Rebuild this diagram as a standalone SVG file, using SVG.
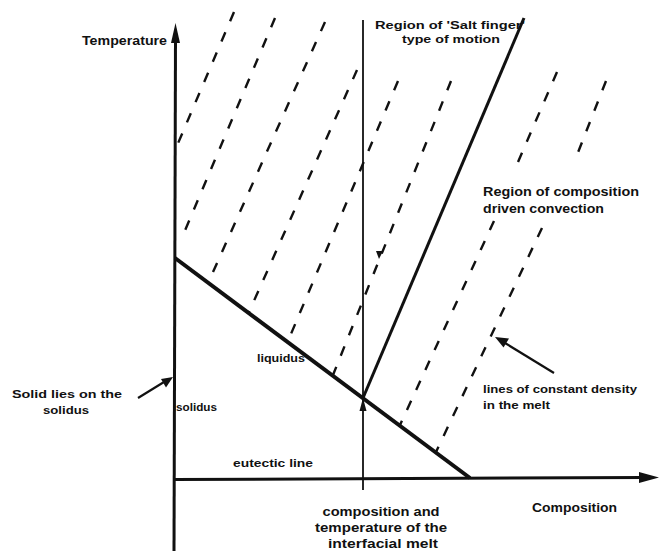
<svg xmlns="http://www.w3.org/2000/svg" width="660" height="554" viewBox="0 0 660 554">
<style>
  .lbl { font-family: "Liberation Sans", Arial, sans-serif; font-weight: bold; fill: #111; }
  .f12 { font-size: 12px; }
  .f11 { font-size: 11px; }
  .f10 { font-size: 10px; }
  .dash { stroke: #111; stroke-width: 2.4; fill: none; stroke-dasharray: 10 12; }
  .solid { stroke: #111; fill: none; }
  .head { fill: #111; }
</style>
<rect width="660" height="554" fill="#fff"/>

<g id="density-lines">
  <line class="dash" x1="234" y1="12" x2="176" y2="148"/>
  <line class="dash" x1="275" y1="18" x2="181" y2="240"/>
  <line class="dash" x1="325" y1="22" x2="209" y2="281"/>
  <line class="dash" x1="357" y1="70" x2="249" y2="312"/>
  <line class="dash" x1="398" y1="81" x2="288" y2="341"/>
  <line class="dash" x1="451" y1="81" x2="333" y2="375"/>
  <line class="dash" x1="557" y1="72" x2="518" y2="162"/>
  <line class="dash" x1="494" y1="221" x2="400" y2="425"/>
  <line class="dash" x1="606" y1="81" x2="577" y2="155"/>
  <line class="dash" x1="542" y1="228" x2="436" y2="452"/>
  <polygon class="head" points="376,251 383,251 379,259"/>
</g>

<g id="axes">
  <line class="solid" x1="174" y1="551" x2="175.5" y2="38" stroke-width="3"/>
  <polygon class="head" points="175.5,23 180,43 171,43"/>
  <line class="solid" x1="174" y1="479.5" x2="645" y2="477.5" stroke-width="3"/>
  <polygon class="head" points="659,477.5 639,472 639,483"/>
</g>

<g id="interface-line">
  <line class="solid" x1="363" y1="20" x2="363" y2="490" stroke-width="1.8"/>
  <polygon class="head" points="363,398 366.5,411 359.5,411"/>
</g>

<g id="liquidus-line">
  <line class="solid" x1="175" y1="258" x2="470" y2="478" stroke-width="4"/>
</g>

<g id="salt-finger-line">
  <line class="solid" x1="363" y1="398" x2="524" y2="18" stroke-width="3"/>
</g>

<g id="connectors">
  <line class="solid" x1="138" y1="398" x2="164" y2="382" stroke-width="2.2"/>
  <polygon class="head" points="173,377 166,387.5 161,379"/>
  <line class="solid" x1="554" y1="373" x2="505" y2="343" stroke-width="2.2"/>
  <polygon class="head" points="495,337 509,338.5 503.5,347.5"/>
</g>

<g id="label-temperature">
  <text class="lbl f12" x="167" y="45" text-anchor="end" textLength="85" lengthAdjust="spacingAndGlyphs">Temperature</text>
</g>
<g id="label-salt-finger">
  <text class="lbl f11" x="375" y="29" textLength="150" lengthAdjust="spacingAndGlyphs">Region of 'Salt  finger'</text>
  <text class="lbl f11" x="402" y="43" textLength="98" lengthAdjust="spacingAndGlyphs">type of motion</text>
</g>
<g id="label-composition-convection">
  <text class="lbl f12" x="483" y="196" textLength="156" lengthAdjust="spacingAndGlyphs">Region of  composition</text>
  <text class="lbl f12" x="483" y="213" textLength="121" lengthAdjust="spacingAndGlyphs">driven convection</text>
</g>
<g id="label-liquidus">
  <text class="lbl f10" x="257" y="362" textLength="48" lengthAdjust="spacingAndGlyphs">liquidus</text>
</g>
<g id="label-solidus">
  <text class="lbl f10" x="176" y="411" textLength="41" lengthAdjust="spacingAndGlyphs">solidus</text>
</g>
<g id="label-solid-lies">
  <text class="lbl f11" x="12" y="398" textLength="110" lengthAdjust="spacingAndGlyphs">Solid lies on the</text>
  <text class="lbl f11" x="66" y="414" text-anchor="middle" textLength="46" lengthAdjust="spacingAndGlyphs">solidus</text>
</g>
<g id="label-eutectic">
  <text class="lbl f10" x="233" y="467" textLength="80" lengthAdjust="spacingAndGlyphs">eutectic line</text>
</g>
<g id="label-density">
  <text class="lbl f11" x="483" y="393" textLength="154" lengthAdjust="spacingAndGlyphs">lines of constant density</text>
  <text class="lbl f11" x="483" y="409" textLength="67" lengthAdjust="spacingAndGlyphs">in the melt</text>
</g>
<g id="label-interfacial">
  <text class="lbl f12" x="381" y="516" text-anchor="middle" textLength="117" lengthAdjust="spacingAndGlyphs">composition and</text>
  <text class="lbl f12" x="381" y="532" text-anchor="middle" textLength="132" lengthAdjust="spacingAndGlyphs">temperature of the</text>
  <text class="lbl f12" x="383" y="548" text-anchor="middle" textLength="110" lengthAdjust="spacingAndGlyphs">interfacial melt</text>
</g>
<g id="label-composition">
  <text class="lbl f12" x="532" y="512" textLength="85" lengthAdjust="spacingAndGlyphs">Composition</text>
</g>
</svg>
